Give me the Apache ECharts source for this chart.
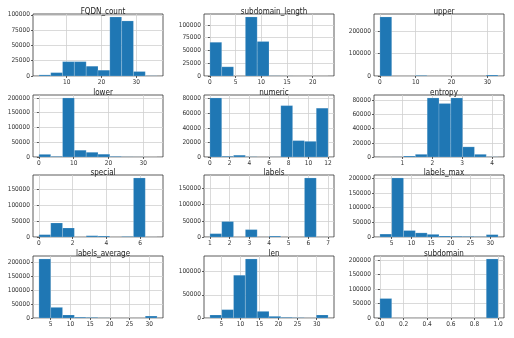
<!DOCTYPE html>
<html>
<head>
<meta charset="utf-8">
<script src="https://cdn.jsdelivr.net/npm/echarts@6/dist/echarts.min.js"></script>
<style>
html,body{margin:0;padding:0;background:#fff;}
#c{width:514px;height:338px;}
</style>
</head>
<body>
<div id="c"></div>
<script>
// Column names (subplot titles)
const titles = ['FQDN_count','subdomain_length','upper','lower','numeric','entropy','special','labels','labels_max','labels_average','len','subdomain'];

// Data range [min, max] per column (10 equal-width bins, as pandas hist)
const rangeFQDN = [2, 36];
const rangeSubLen = [0, 23];
const rangeUpper = [0, 33];
const rangeLower = [0, 34];
const rangeNumeric = [0, 12];
const rangeEntropy = [0.25, 4.2];
const rangeSpecial = [0, 7];
const rangeLabels = [1, 7];
const rangeLabelsMax = [2, 32];
const rangeLabelsAvg = [2, 32];
const rangeLen = [2, 33];
const rangeSubdomain = [0, 1];

// Bin counts
const countFQDN = [1800, 5500, 23500, 23500, 16000, 9500, 96500, 90000, 7300, 300];
const countSubLen = [66000, 18000, 0, 115500, 67500, 300, 100, 50, 20, 10];
const countUpper = [264000, 0, 0, 2500, 0, 0, 0, 0, 0, 4500];
const countLower = [9000, 2000, 200000, 23000, 16000, 9500, 2000, 500, 200, 100];
const countNumeric = [81000, 1000, 2500, 300, 0, 100, 70500, 22500, 21500, 67000];
const countEntropy = [50, 100, 1400, 3800, 83300, 75500, 83300, 14300, 3800, 200];
const countSpecial = [7300, 43700, 28000, 0, 4000, 3000, 0, 1500, 184000, 100];
const countLabels = [10400, 48000, 0, 23000, 0, 3000, 0, 0, 183000, 100];
const countLabelsMax = [10000, 201000, 22000, 14000, 9000, 3500, 2500, 2000, 1000, 8000];
const countLabelsAvg = [211000, 38000, 10800, 3000, 2000, 300, 100, 50, 50, 7000];
const countLen = [6400, 18000, 92000, 127000, 14300, 3600, 1400, 700, 100, 6500];
const countSubdomain = [67000, 0, 0, 0, 0, 0, 0, 0, 0, 203000];

// Tick labels
const xTicksFQDN = [10, 20, 30];
const xTicksSubLen = [0, 5, 10, 15, 20];
const xTicksUpper = [0, 10, 20, 30];
const xTicksLower = [0, 10, 20, 30];
const xTicksNumeric = [0, 2, 4, 6, 8, 10, 12];
const xTicksEntropy = [1, 2, 3, 4];
const xTicksSpecial = [0, 2, 4, 6];
const xTicksLabels = [1, 2, 3, 4, 5, 6, 7];
const xTicksLabelsMax = [5, 10, 15, 20, 25, 30];
const xTicksLabelsAvg = [5, 10, 15, 20, 25, 30];
const xTicksLen = [5, 10, 15, 20, 25, 30];
const xTicksSubdomain = [0, 0.2, 0.4, 0.6, 0.8, 1.0];

const yTicks25k = [0, 25000, 50000, 75000, 100000];
const yTicks100k = [0, 100000, 200000];
const yTicks50k200 = [0, 50000, 100000, 150000, 200000];
const yTicks20k = [0, 20000, 40000, 60000, 80000];
const yTicks50k150 = [0, 50000, 100000, 150000];
const yTicks50k100 = [0, 50000, 100000];

const panels = [
  [rangeFQDN, countFQDN, xTicksFQDN, yTicks25k, 0],
  [rangeSubLen, countSubLen, xTicksSubLen, yTicks25k, 0],
  [rangeUpper, countUpper, xTicksUpper, yTicks100k, 0],
  [rangeLower, countLower, xTicksLower, yTicks50k200, 0],
  [rangeNumeric, countNumeric, xTicksNumeric, yTicks20k, 0],
  [rangeEntropy, countEntropy, xTicksEntropy, yTicks20k, 0],
  [rangeSpecial, countSpecial, xTicksSpecial, yTicks50k150, 0],
  [rangeLabels, countLabels, xTicksLabels, yTicks50k150, 0],
  [rangeLabelsMax, countLabelsMax, xTicksLabelsMax, yTicks50k200, 0],
  [rangeLabelsAvg, countLabelsAvg, xTicksLabelsAvg, yTicks50k200, 0],
  [rangeLen, countLen, xTicksLen, yTicks50k100, 0],
  [rangeSubdomain, countSubdomain, xTicksSubdomain, yTicks50k200, 1]
];

const colLeft = [33, 204, 374];
const rowTop = [14, 95, 175, 256];
const W = 130, H = 62;
const FONT = "'DejaVu Sans Condensed','DejaVu Sans',sans-serif";

const grids = [], xAxes = [], yAxes = [], series = [], titleArr = [];
panels.forEach((p, i) => {
  const [rng, counts, xt, yt, dec] = p;
  const r = Math.floor(i / 3), c = i % 3;
  grids.push({left: colLeft[c], top: rowTop[r], width: W, height: H,
    show: true, borderColor: '#333', borderWidth: 0.8, backgroundColor: 'transparent'});
  const span = rng[1] - rng[0];
  const bw = span / counts.length;
  const data = counts.map((v, k) => [rng[0] + k * bw, rng[0] + (k + 1) * bw, v]);
  const maxC = Math.max.apply(null, counts);
  xAxes.push({
    type: 'value', gridIndex: i,
    min: rng[0] - 0.05 * span, max: rng[1] + 0.05 * span,
    axisLine: {show: false},
    axisTick: {show: true, length: 2, customValues: xt, lineStyle: {color: '#333', width: 0.8}},
    axisLabel: {customValues: xt, fontSize: 6.5, fontFamily: FONT, color: '#333', margin: 3,
      formatter: v => dec ? v.toFixed(dec) : String(v)},
    splitLine: {show: true, lineStyle: {color: '#d0d0d0', width: 0.8}}
  });
  yAxes.push({
    type: 'value', gridIndex: i, min: 0, max: maxC * 1.05,
    axisLine: {show: false},
    axisTick: {show: true, length: 2, customValues: yt, lineStyle: {color: '#333', width: 0.8}},
    axisLabel: {customValues: yt, fontSize: 6.5, fontFamily: FONT, color: '#333', margin: 3,
      formatter: v => String(Math.round(v))},
    splitLine: {show: true, lineStyle: {color: '#d0d0d0', width: 0.8}}
  });
  series.push({
    type: 'custom', xAxisIndex: i, yAxisIndex: i, data: data,
    encode: {x: [0, 1], y: 2},
    clip: true,
    renderItem: (params, api) => {
      const a = api.coord([api.value(0), 0]);
      const b = api.coord([api.value(1), api.value(2)]);
      return {type: 'rect', shape: {x: a[0], y: b[1], width: b[0] - a[0], height: a[1] - b[1]},
        style: {fill: '#1f77b4', stroke: 'rgba(255,255,255,0.35)', lineWidth: 0.5}};
    }
  });
  titleArr.push({text: titles[i], left: colLeft[c] + W / 2, top: rowTop[r] - 11, textAlign: 'center',
    textStyle: {fontSize: 8, fontWeight: 'normal', color: '#222', fontFamily: FONT}});
});

const chart = echarts.init(document.getElementById('c'), null, {renderer: 'canvas'});
chart.setOption({animation: false, title: titleArr, grid: grids, xAxis: xAxes, yAxis: yAxes, series: series});
</script>
</body>
</html>
